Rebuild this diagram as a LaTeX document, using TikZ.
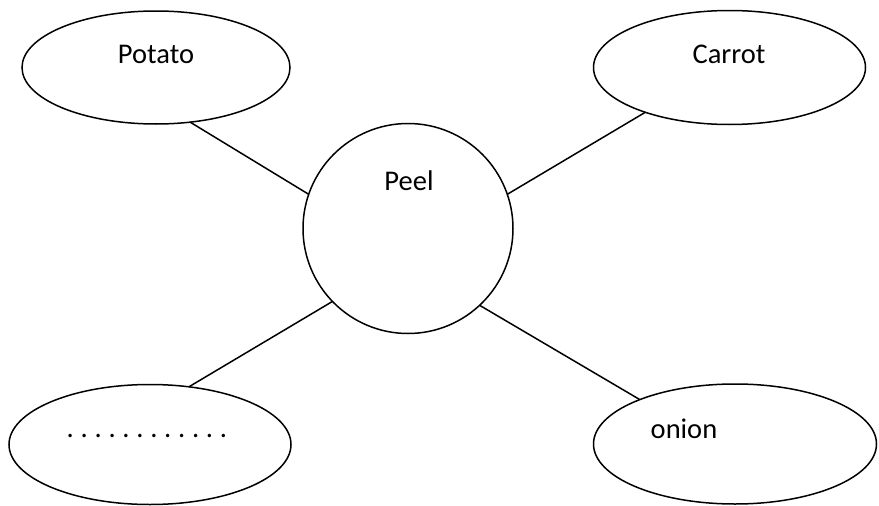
\documentclass[tikz,border=0pt]{standalone}
\usepackage{fontspec}
\setmainfont{Carlito}
\usetikzlibrary{shapes.geometric}
\begin{document}
\begin{tikzpicture}[x=1pt,y=-1pt,
  oval/.style={draw,ellipse,line width=1.5pt,inner sep=0pt,outer sep=0pt},
  ring/.style={draw,circle,line width=1.5pt,inner sep=0pt,outer sep=0pt,minimum size=210pt},
  lbl/.style={anchor=base,inner sep=0pt,font=\fontsize{28.5}{34}\selectfont},
  link/.style={line width=1.5pt}]
\useasboundingbox (0,0) rectangle (879,506);
\node[ring] (peel) at (408,228.5) {};
\node[oval,minimum width=268pt,minimum height=113pt] (potato) at (156,67.5) {};
\node[oval,minimum width=272pt,minimum height=114pt] (carrot) at (729.5,67.5) {};
\node[oval,minimum width=282pt,minimum height=120pt] (dots) at (150,444.5) {};
\node[oval,minimum width=283pt,minimum height=120pt] (onion) at (735,444) {};
\node[lbl] (tpotato) at (156,63) {Potato};
\node[lbl] (tcarrot) at (729,63) {Carrot};
\node[lbl] (tpeel) at (409,190) {Peel};
\node[lbl] (tdots) at (147,437) {\spaceskip=4.6pt\relax . . . . . . . . . . . .};
\node[lbl] (tonion) at (684,438) {onion};
\draw[link] (potato.-58) -- (peel.161);
\draw[link] (carrot.-152) -- (peel.19.5);
\draw[link] (dots.56.5) -- (peel.224);
\draw[link] (onion.155.7) -- (peel.-47.4);
\end{tikzpicture}
\end{document}
